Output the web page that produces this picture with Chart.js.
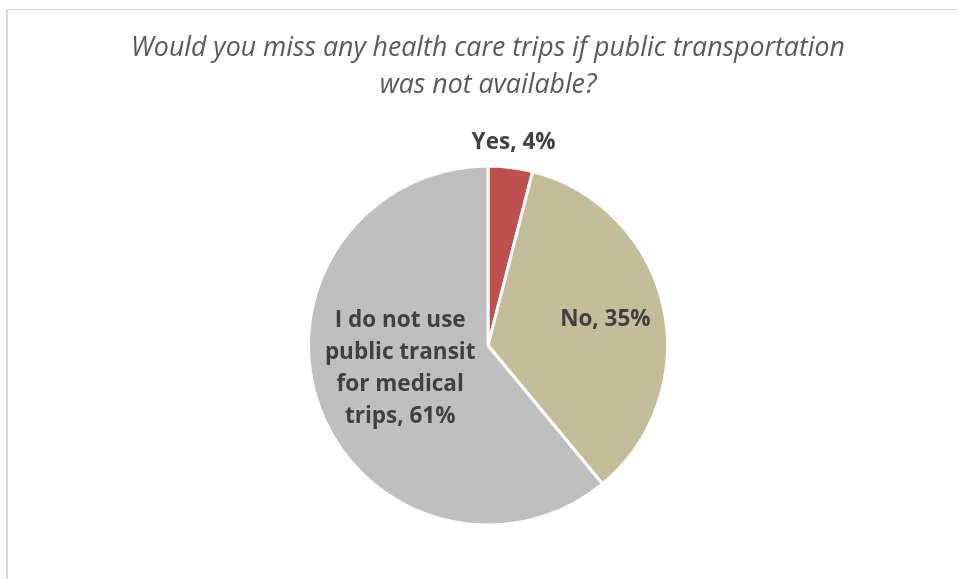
<!DOCTYPE html>
<html>
<head>
<meta charset="utf-8">
<script src="https://cdn.jsdelivr.net/npm/chart.js@4"></script>
<style>
  body { margin: 0; background: #fff; }
  #frame {
    position: absolute; left: 6px; top: 9px; width: 1000px; height: 1000px;
    border-left: 2px solid #d9d9d9; border-top: 1px solid #d9d9d9;
  }
  #wrap { position: absolute; left: 0; top: 0; width: 957px; height: 579px; }
</style>
</head>
<body>
<div id="frame"></div>
<div id="wrap"><canvas id="myChart" width="957" height="579"></canvas></div>
<script>
const titleLines = [
  "Would you miss any health care trips if public transportation",
  "was not available?",
];
const categories = ["Yes", "No", "I do not use public transit for medical trips"];
const percents = [4, 35, 61];
const labelLines = [
  ["Yes, 4%"],
  ["No, 35%"],
  ["I do not use", "public transit", "for medical", "trips, 61%"],
];
const sliceColors = ["#c0504d", "#c4bd97", "#bfbfbf"];

// draws title and slice labels
const textPlugin = {
  id: "textPlugin",
  afterDraw(chart, args, opts) {
    const ctx = chart.ctx;
    ctx.save();
    ctx.textAlign = "center";
    ctx.textBaseline = "middle";
    ctx.fillStyle = "#595959";
    ctx.font = "italic 26.7px 'Open Sans', sans-serif";
    titleLines.forEach((line, i) => {
      ctx.fillText(line, opts.titleX, opts.titleY + i * opts.titleGap);
    });

    ctx.fillStyle = "#404040";
    ctx.font = "bold 22.5px 'Open Sans', sans-serif";
    const meta = chart.getDatasetMeta(0);
    meta.data.forEach((arc, i) => {
      const mid = (arc.startAngle + arc.endAngle) / 2;
      const r = arc.outerRadius * opts.radial[i];
      const cx = arc.x + Math.cos(mid) * r;
      const cy = arc.y + Math.sin(mid) * r + opts.shiftY[i];
      const lines = labelLines[i];
      const top = cy - ((lines.length - 1) * opts.lineGap) / 2;
      lines.forEach((t, j) => ctx.fillText(t, cx, top + j * opts.lineGap));
    });
    ctx.restore();
  },
};

const ctx = document.getElementById("myChart").getContext("2d");
new Chart(ctx, {
  type: "pie",
  data: {
    labels: categories,
    datasets: [
      {
        data: percents,
        backgroundColor: sliceColors,
        borderColor: "#ffffff",
        borderWidth: 3,
      },
    ],
  },
  options: {
    responsive: false,
    animation: false,
    layout: {
      padding: { left: 307, right: 288, top: 164, bottom: 52 },
    },
    plugins: {
      legend: { display: false },
      tooltip: { enabled: false },
      title: { display: false },
      textPlugin: {
        titleX: 488,
        titleY: 48,
        titleGap: 37,
        lineGap: 32,
        radial: [1.137, 0.67, 0.52],
        shiftY: [0, 0, -9],
      },
    },
  },
  plugins: [textPlugin],
});
</script>
</body>
</html>
